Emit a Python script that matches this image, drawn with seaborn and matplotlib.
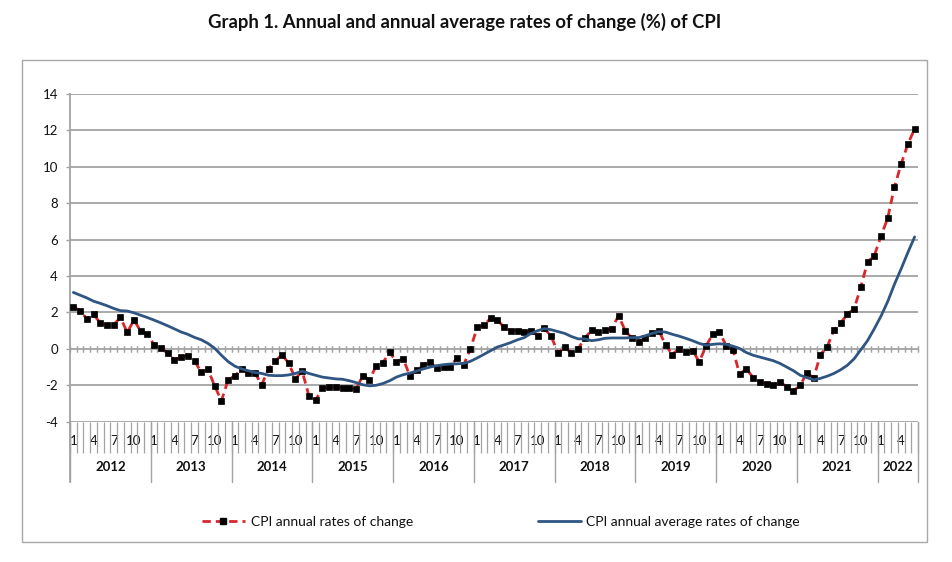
import numpy as np
import pandas as pd
import matplotlib
matplotlib.use("Agg")
import matplotlib.pyplot as plt
import matplotlib.transforms as mtransforms
from matplotlib.lines import Line2D
from matplotlib.patches import Rectangle
import seaborn as sns

# ---------------- data ----------------
years = [2012, 2013, 2014, 2015, 2016, 2017, 2018, 2019, 2020, 2021, 2022]
labelled_months = [1, 4, 7, 10]

cpi_annual = [
    2.30, 2.10, 1.65, 1.90, 1.42, 1.30, 1.33, 1.73, 0.90, 1.58, 0.98, 0.82,      # 2012
    0.22, 0.05, -0.22, -0.60, -0.45, -0.38, -0.65, -1.29, -1.13, -2.04, -2.85, -1.70,  # 2013
    -1.47, -1.13, -1.33, -1.35, -1.96, -1.09, -0.68, -0.31, -0.80, -1.64, -1.22, -2.58,  # 2014
    -2.82, -2.15, -2.11, -2.09, -2.13, -2.15, -2.22, -1.47, -1.69, -0.93, -0.75, -0.18,  # 2015
    -0.71, -0.53, -1.49, -1.16, -0.89, -0.71, -1.07, -0.98, -0.98, -0.49, -0.87, 0.00,   # 2016
    1.18, 1.29, 1.69, 1.60, 1.18, 1.00, 1.00, 0.93, 1.00, 0.73, 1.12, 0.69,          # 2017
    -0.22, 0.09, -0.22, 0.00, 0.60, 1.02, 0.91, 1.02, 1.11, 1.82, 1.00, 0.58,        # 2018
    0.40, 0.58, 0.87, 1.00, 0.20, -0.31, 0.02, -0.18, -0.09, -0.71, 0.15, 0.82,      # 2019
    0.91, 0.18, -0.04, -1.40, -1.09, -1.58, -1.82, -1.91, -2.00, -1.82, -2.08, -2.31,  # 2020
    -2.00, -1.31, -1.60, -0.31, 0.11, 1.02, 1.42, 1.91, 2.19, 3.39, 4.77, 5.12,      # 2021
    6.19, 7.19, 8.89, 10.16, 11.26, 12.08,                                           # 2022
]

cpi_average = [
    3.10, 2.95, 2.80, 2.62, 2.50, 2.37, 2.22, 2.10, 2.08, 1.98, 1.85, 1.72,          # 2012
    1.58, 1.43, 1.27, 1.10, 0.93, 0.80, 0.63, 0.50, 0.30, 0.03, -0.35, -0.70,        # 2013
    -0.95, -1.10, -1.20, -1.30, -1.35, -1.45, -1.47, -1.47, -1.43, -1.35, -1.22, -1.35,  # 2014
    -1.45, -1.55, -1.60, -1.65, -1.67, -1.75, -1.85, -1.97, -2.03, -2.00, -1.90, -1.75,  # 2015
    -1.55, -1.42, -1.33, -1.22, -1.10, -1.00, -0.92, -0.87, -0.83, -0.82, -0.80, -0.68,  # 2016
    -0.50, -0.30, -0.10, 0.10, 0.22, 0.35, 0.50, 0.62, 0.85, 1.00, 1.12, 1.05,       # 2017
    0.95, 0.85, 0.68, 0.55, 0.55, 0.45, 0.50, 0.58, 0.60, 0.60, 0.60, 0.62,          # 2018
    0.62, 0.72, 0.85, 0.95, 0.92, 0.80, 0.70, 0.58, 0.45, 0.30, 0.20, 0.25,          # 2019
    0.28, 0.25, 0.15, 0.02, -0.20, -0.35, -0.45, -0.55, -0.65, -0.80, -1.00, -1.20,  # 2020
    -1.45, -1.58, -1.70, -1.62, -1.50, -1.35, -1.15, -0.90, -0.55, -0.05, 0.45, 1.10,  # 2021
    1.80, 2.60, 3.55, 4.40, 5.30, 6.15,                                              # 2022
]

yticks = [-4, -2, 0, 2, 4, 6, 8, 10, 12, 14]
title = "Graph 1. Annual and annual average rates of change (%) of CPI"
label_annual = "CPI annual rates of change"
label_average = "CPI annual average rates of change"

# ---------------- styling ----------------
RED = "#D8262B"
BLUE = "#2F5582"
GRID = "#A3A3A3"
W, H = 952, 562

sns.set_style("white")
plt.rcParams["font.family"] = ["Lato", "DejaVu Sans"]

n = len(cpi_annual)
month_num = [m for y in years for m in range(1, 13)][:n]
year_of = [y for y in years for m in range(1, 13)][:n]
df = pd.DataFrame({"idx": np.arange(n), "annual": cpi_annual,
                   "average": cpi_average, "month": month_num, "year": year_of})

fig = plt.figure(figsize=(W / 100, H / 100), dpi=100)
left, right, top, bottom = 70, 918, 94, 421.7
ax = fig.add_axes([left / W, 1 - bottom / H, (right - left) / W, (bottom - top) / H])

RED_LS = (0, (3.0, 1.8))
sns.lineplot(data=df, x="idx", y="annual", ax=ax, color=RED, lw=2.0,
             linestyle=RED_LS, marker="s", markersize=3.9,
             markerfacecolor="black", markeredgecolor="black",
             markeredgewidth=0.5, label=label_annual, legend=False, zorder=3)
sns.lineplot(data=df, x="idx", y="average", ax=ax, color=BLUE, lw=2.0,
             label=label_average, legend=False, zorder=4)

ax.set_xlim(-0.5, n - 0.5)
ax.set_ylim(yticks[0], yticks[-1])
ax.set_yticks(yticks)
ax.set_yticklabels([str(v) for v in yticks])
ax.yaxis.grid(True, color=GRID, lw=1.3)
ax.xaxis.grid(False)
ax.set_xlabel("")
ax.set_ylabel("")
for s in ["top", "right", "bottom"]:
    ax.spines[s].set_visible(False)
ax.spines["left"].set_color(GRID)
ax.spines["left"].set_linewidth(1.3)
ax.tick_params(axis="y", length=2.6, color=GRID, width=1.0, pad=6,
               labelsize=9.5, labelcolor="#111111", left=True)

# month labels + category boundary ticks
lab_df = df[df["month"].isin(labelled_months)]
ax.set_xticks(lab_df["idx"].tolist())
ax.set_xticklabels([str(m) for m in lab_df["month"]])
ax.set_xticks(np.arange(-0.5, n, 1.0), minor=True)
ax.tick_params(axis="x", which="major", length=0, pad=9.5, labelsize=9.5,
               labelcolor="#111111")
ax.tick_params(axis="x", which="minor", length=22, color=GRID, width=0.9,
               direction="out", bottom=True)

# crossing ticks on the zero line
sec = ax.secondary_xaxis((0 - yticks[0]) / (yticks[-1] - yticks[0]))
sec.set_xticks(np.arange(-0.5, n, 1.0))
sec.tick_params(axis="x", direction="inout", length=4.6, color=GRID, width=0.9,
                labelbottom=False, labeltop=False, top=True, bottom=True)
for s in sec.spines.values():
    s.set_visible(False)

# year dividers and labels
trans = mtransforms.blended_transform_factory(ax.transData, ax.transAxes)
ylow = -(482 - bottom) / (bottom - top)
ylab = -(467 - bottom) / (bottom - top)
year_groups = df.groupby("year")["idx"]
bounds = [g.min() - 0.5 for _, g in year_groups] + [n - 0.5]
for b in bounds:
    ax.add_line(Line2D([b, b], [0, ylow], transform=trans, color=GRID,
                       lw=1.0, clip_on=False))
for yr, g in year_groups:
    ax.text(g.mean(), ylab, str(yr), transform=trans, ha="center", va="center",
            fontsize=9.5, fontweight="bold", color="#111111")
ax.add_line(Line2D([-0.5, -0.5], [0, ylow], transform=trans, color=GRID,
                   lw=1.3, clip_on=False))

# outer frame
fig.add_artist(Rectangle((22 / W, 1 - 542 / H), (927 - 22) / W, (542 - 60) / H,
                         transform=fig.transFigure, fill=False,
                         edgecolor="#A8A8A8", lw=1.0))

fig.text(465 / W, 1 - 22 / H, title, ha="center", va="center",
         fontsize=13.3, fontweight="bold", color="#111111")

h_annual = Line2D([], [], color=RED, lw=2.0, linestyle=RED_LS,
                  marker="s", markersize=3.9, markerfacecolor="black",
                  markeredgecolor="black")
h_avg = Line2D([], [], color=BLUE, lw=2.0)
fig.legend([h_annual, h_avg], [label_annual, label_average], loc="center",
           bbox_to_anchor=(501 / W, 1 - 522 / H), ncol=2, frameon=False,
           fontsize=10, handlelength=3.1, handletextpad=0.4, columnspacing=9,
           labelcolor="#111111")

fig.savefig("out.png", dpi=100)
